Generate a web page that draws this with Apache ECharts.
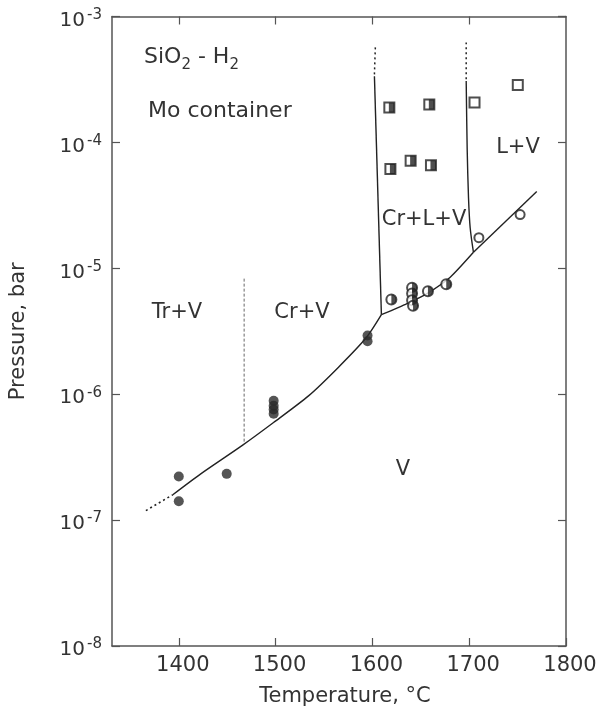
<!DOCTYPE html>
<html><head><meta charset="utf-8">
<script src="https://cdn.jsdelivr.net/npm/echarts@6/dist/echarts.min.js"></script>
<style>html,body{margin:0;padding:0;background:#fff}#c{width:603px;height:712px}</style>
</head><body><div id="c"></div><script>
// ---- data ----
const xTicks = [1400, 1500, 1600, 1700, 1800];
const xTopTicks = [1400, 1500, 1600, 1700];
const yExponents = [-8, -7, -6, -5, -4, -3];
const filledCircles = [[1400, 2.22e-7], [1400, 1.41e-7], [1449.5, 2.33e-7],
  [1498, 8.87e-7], [1498, 8.1e-7], [1498, 7.55e-7], [1498, 7.0e-7],
  [1595, 2.93e-6], [1595, 2.63e-6]];
const halfCircles = [[1619.6, 5.65e-6], [1641, 7.0e-6], [1641, 6.3e-6], [1641, 5.58e-6],
  [1642, 5.04e-6], [1657.4, 6.58e-6], [1676.3, 7.46e-6]];
const halfSquares = [[1617.5, 1.89e-4], [1658.8, 2.0e-4], [1618.6, 6.15e-5], [1639.5, 7.16e-5], [1660.5, 6.58e-5]];
const openSquares = [[1705.5, 2.07e-4], [1750.2, 2.86e-4]];
const openCircles = [[1710, 1.75e-5], [1752.6, 2.67e-5]];
const curveExtrapolated = [[1366, 1.19e-7], [1393.8, 1.59e-7]];
const curveCr = [[1393.8, 1.59e-7], [1422.7, 2.33e-7], [1466.0, 3.94e-7], [1497.9, 5.96e-7],
  [1534.0, 9.7e-7], [1565.0, 1.64e-6], [1593.8, 2.82e-6], [1609.3, 4.28e-6]];
const curveCrL = [[1609.3, 4.28e-6], [1635.8, 5.25e-6], [1656.4, 6.3e-6], [1680.4, 8.5e-6], [1704.4, 1.34e-5]];
const curveL = [[1704.4, 1.34e-5], [1769.8, 4.08e-5]];
const boundaryCrSolid = [[1609.3, 4.28e-6], [1602.1, 3.35e-4]];
const boundaryCrDotted = [[1602.1, 3.47e-4], [1603.1, 5.86e-4]];
const boundaryLSolid = [[1704.4, 1.34e-5], [1701, 2.1e-5], [1699.3, 3.62e-5], [1697.9, 8.93e-5], [1696.9, 3.08e-4]];
const boundaryLDotted = [[1696.9, 3.17e-4], [1696.9, 6.22e-4]];
const boundaryTrCr = [[1467.5, 4.2e-7], [1467.5, 8.5e-6]];

const FONT = 'DejaVu Sans';
const INK = '#222';
const TXT = '#333';
const chart = echarts.init(document.getElementById('c'), null, {renderer: 'canvas'});

function lineSeries(data, type, width, color, smooth) {
  return {type: 'line', data: data, symbol: 'none', smooth: smooth || false, silent: true,
    lineStyle: {color: color || INK, width: width || 1.4, type: type || 'solid'}, z: 2};
}
function scatter(data, symbol, size, color, extra) {
  return Object.assign({type: 'scatter', data: data, symbol: symbol, symbolSize: size,
    itemStyle: {color: color}, z: 5, silent: true}, extra || {});
}

const axisLine = {show: true, lineStyle: {color: '#555', width: 1.5}};
const tick = {show: true, inside: true, length: 8, lineStyle: {color: '#555', width: 1.2}};

chart.setOption({
  animation: false,
  backgroundColor: '#fff',
  grid: {left: 111, right: 37, top: 16.5, bottom: 59, containLabel: false},
  xAxis: [
    {type: 'value', min: 1331, max: 1800, position: 'bottom', splitLine: {show: false},
      axisLine: axisLine, axisTick: Object.assign({customValues: xTicks}, tick),
      axisLabel: {customValues: xTicks, formatter: function (v) { return String(v); },
        fontFamily: FONT, fontSize: 21, color: TXT, margin: 9, padding: [0, 0, 0, 8]},
      name: 'Temperature, °C', nameLocation: 'middle', nameGap: 40,
      nameTextStyle: {fontFamily: FONT, fontSize: 21, color: TXT, padding: [0, 0, 0, 12]}},
    {type: 'value', min: 1331, max: 1800, position: 'top', splitLine: {show: false},
      axisLine: axisLine, axisTick: Object.assign({customValues: xTopTicks}, tick),
      axisLabel: {show: false}}
  ],
  yAxis: [
    {type: 'log', logBase: 10, min: Math.pow(10, yExponents[0]), max: Math.pow(10, yExponents[yExponents.length - 1]),
      splitLine: {show: false}, axisLine: axisLine, axisTick: tick,
      axisLabel: {margin: 10, color: TXT, padding: [8, 0, 0, 0],
        formatter: function (v) { const e = Math.round(Math.log10(v)); return '{b|10}{s|-' + Math.abs(e) + '}'; },
        rich: {b: {fontFamily: FONT, fontSize: 20, lineHeight: 26, color: TXT},
               s: {fontFamily: FONT, fontSize: 15, lineHeight: 15, verticalAlign: 'top', color: TXT, padding: [0, 0, 0, 2]}}},
      name: 'Pressure, bar', nameLocation: 'middle', nameGap: 83,
      nameTextStyle: {fontFamily: FONT, fontSize: 21, color: TXT}},
    {type: 'log', logBase: 10, min: Math.pow(10, yExponents[0]), max: Math.pow(10, yExponents[yExponents.length - 1]),
      position: 'right', splitLine: {show: false}, axisLine: axisLine, axisTick: tick, axisLabel: {show: false}}
  ],
  series: [
    lineSeries(curveExtrapolated, [2, 3], 1.6),
    lineSeries(curveCr, 'solid', 1.4, INK, 0.25),
    lineSeries(curveCrL, 'solid', 1.4, INK, 0.2),
    lineSeries(curveL, 'solid', 1.4),
    lineSeries(boundaryCrSolid, 'solid', 1.4),
    lineSeries(boundaryCrDotted, [2, 3], 1.5),
    lineSeries(boundaryLSolid, 'solid', 1.4, INK, 0.3),
    lineSeries(boundaryLDotted, [2, 3], 1.5),
    lineSeries(boundaryTrCr, [3, 2], 1, '#666'),
    scatter(filledCircles, 'circle', 10, '#2b2b2b'),
    scatter(halfCircles, 'emptyCircle', 10, INK, {itemStyle: {color: INK, borderWidth: 1.4}}),
    scatter(halfCircles, 'path://M0,0 A10,10 0 0 1 0,20 Z', [5, 10], INK, {symbolOffset: [2.5, 0], z: 6}),
    scatter(halfSquares, 'emptyRect', 10, INK, {itemStyle: {color: INK, borderWidth: 1.4}}),
    scatter(halfSquares, 'rect', [5.5, 10], INK, {symbolOffset: [2.25, 0], z: 6}),
    scatter(openSquares, 'emptyRect', 10, INK, {itemStyle: {color: INK, borderWidth: 1.2}}),
    scatter(openCircles, 'emptyCircle', 9, INK, {itemStyle: {color: INK, borderWidth: 1.2}})
  ],
  graphic: [
    {type: 'text', left: 144, top: 46, style: {text: '{a|SiO}{s|2}{a| - H}{s|2}', fill: TXT,
      rich: {a: {fontFamily: FONT, fontSize: 22, lineHeight: 24, fill: TXT},
             s: {fontFamily: FONT, fontSize: 15, lineHeight: 15, verticalAlign: 'bottom', fill: TXT, padding: [0, 0, -4, 0]}}}},
    {type: 'text', left: 148, top: 100, style: {text: 'Mo container', font: '22px ' + FONT, fill: TXT}},
    {type: 'text', x: 177, y: 313, style: {text: 'Tr+V', font: '21px ' + FONT, fill: TXT, align: 'center', verticalAlign: 'middle'}},
    {type: 'text', x: 302, y: 313, style: {text: 'Cr+V', font: '21px ' + FONT, fill: TXT, align: 'center', verticalAlign: 'middle'}},
    {type: 'text', x: 424, y: 220, style: {text: 'Cr+L+V', font: '21px ' + FONT, fill: TXT, align: 'center', verticalAlign: 'middle'}},
    {type: 'text', x: 518, y: 148, style: {text: 'L+V', font: '21px ' + FONT, fill: TXT, align: 'center', verticalAlign: 'middle'}},
    {type: 'text', x: 403, y: 470, style: {text: 'V', font: '21px ' + FONT, fill: TXT, align: 'center', verticalAlign: 'middle'}}
  ]
});
</script></body></html>
